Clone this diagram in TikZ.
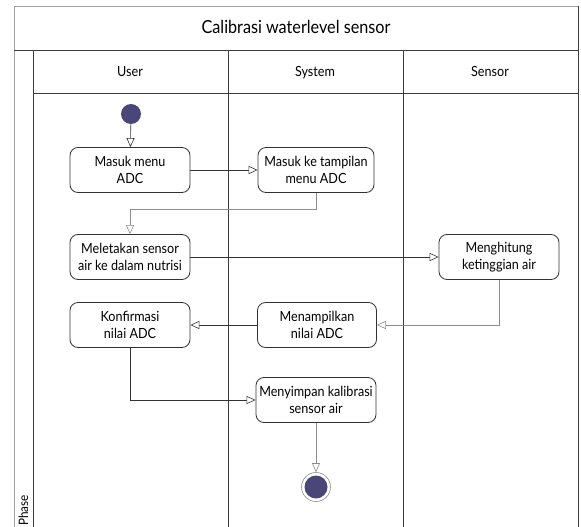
\documentclass[tikz,border=0pt]{standalone}
\usepackage{fontspec}
\setmainfont{Lato}[FakeStretch=0.9]
\usetikzlibrary{arrows.meta}
\definecolor{ufill}{RGB}{74,70,120}
\definecolor{lanec}{RGB}{60,60,60}
\definecolor{framec}{RGB}{160,160,160}
\definecolor{connc}{RGB}{50,50,50}
\definecolor{conng}{RGB}{140,140,140}
\begin{document}
\begin{tikzpicture}[x=1pt,y=-1pt,
  act/.style={draw=connc, line width=0.8pt, rounded corners=8pt, minimum width=120pt,
    minimum height=45pt, align=center, inner sep=2pt, font=\fontsize{14}{16.5}\selectfont},
  lanehead/.style={font=\fontsize{14}{16}\selectfont, anchor=base},
  arr/.style={draw=connc, line width=0.6pt, -{Triangle[open, length=9pt, width=8pt, fill=white]}},
  arrg/.style={draw=conng, line width=0.6pt, -{Triangle[open, length=9pt, width=8pt, fill=white]}},
  lane/.style={draw=lanec, line width=0.7pt},
  frame/.style={draw=framec, line width=0.9pt}]
\useasboundingbox (0,0) rectangle (581,527);
% frame
\draw[frame] (14,527) -- (14,6) -- (578,6);
\draw[lane] (578,6) -- (578,527);
\draw[lane] (14,50) -- (578,50);
\draw[lane] (33,50) -- (33,527);
\draw[lane] (33,93) -- (578,93);
\draw[lane] (228,50) -- (228,527);
\draw[lane] (403,50) -- (403,527);
\node[anchor=base] (title) at (296,34) {\fontsize{18}{20}\selectfont Calibrasi waterlevel sensor};
\node[lanehead] (luser) at (130,76.5) {User};
\node[lanehead] (lsys) at (315,76.5) {System};
\node[lanehead] (lsen) at (490,76.5) {Sensor};
\node[rotate=90, anchor=base west, font=\fontsize{13}{15}\selectfont, inner sep=0pt] (phase) at (28,526) {Phase};
% nodes
\node[circle, fill=ufill, minimum size=20pt, inner sep=0pt] (start) at (131,114) {};
\node[act] (m1) at (130,170) {Masuk menu\\ADC};
\node[act, minimum width=116pt] (m2) at (316,170) {Masuk ke tampilan\\menu ADC};
\node[act] (m3) at (130,257) {Meletakan sensor\\air ke dalam nutrisi};
\node[act] (h1) at (499,257) {Menghitung\\ketinggian air};
\node[act, minimum width=119pt] (mp) at (317,325) {Menampilkan\\nilai ADC};
\node[act] (k1) at (130,325) {Konfirmasi\\nilai ADC};
\node[act] (ms) at (316,400) {Menyimpan kalibrasi\\sensor air};
\node[circle, draw=conng, line width=0.6pt, minimum size=29pt, inner sep=0pt] (end) at (316,487) {};
\node[circle, fill=ufill, minimum size=23pt, inner sep=0pt] (endin) at (end.center) {};
% connectors
\draw[arr] (start) -- (m1);
\draw[arr] (m1) -- (m2);
\draw[arrg] (m2.south) -- ++(0,16) -| (m3.north);
\draw[arr] (m3) -- (h1);
\draw[arrg] (h1.south) |- (mp.east);
\draw[arr] (mp) -- (k1);
\draw[arr] (k1.south) |- (ms.west);
\draw[arrg] (ms) -- (end);
\end{tikzpicture}
\end{document}
